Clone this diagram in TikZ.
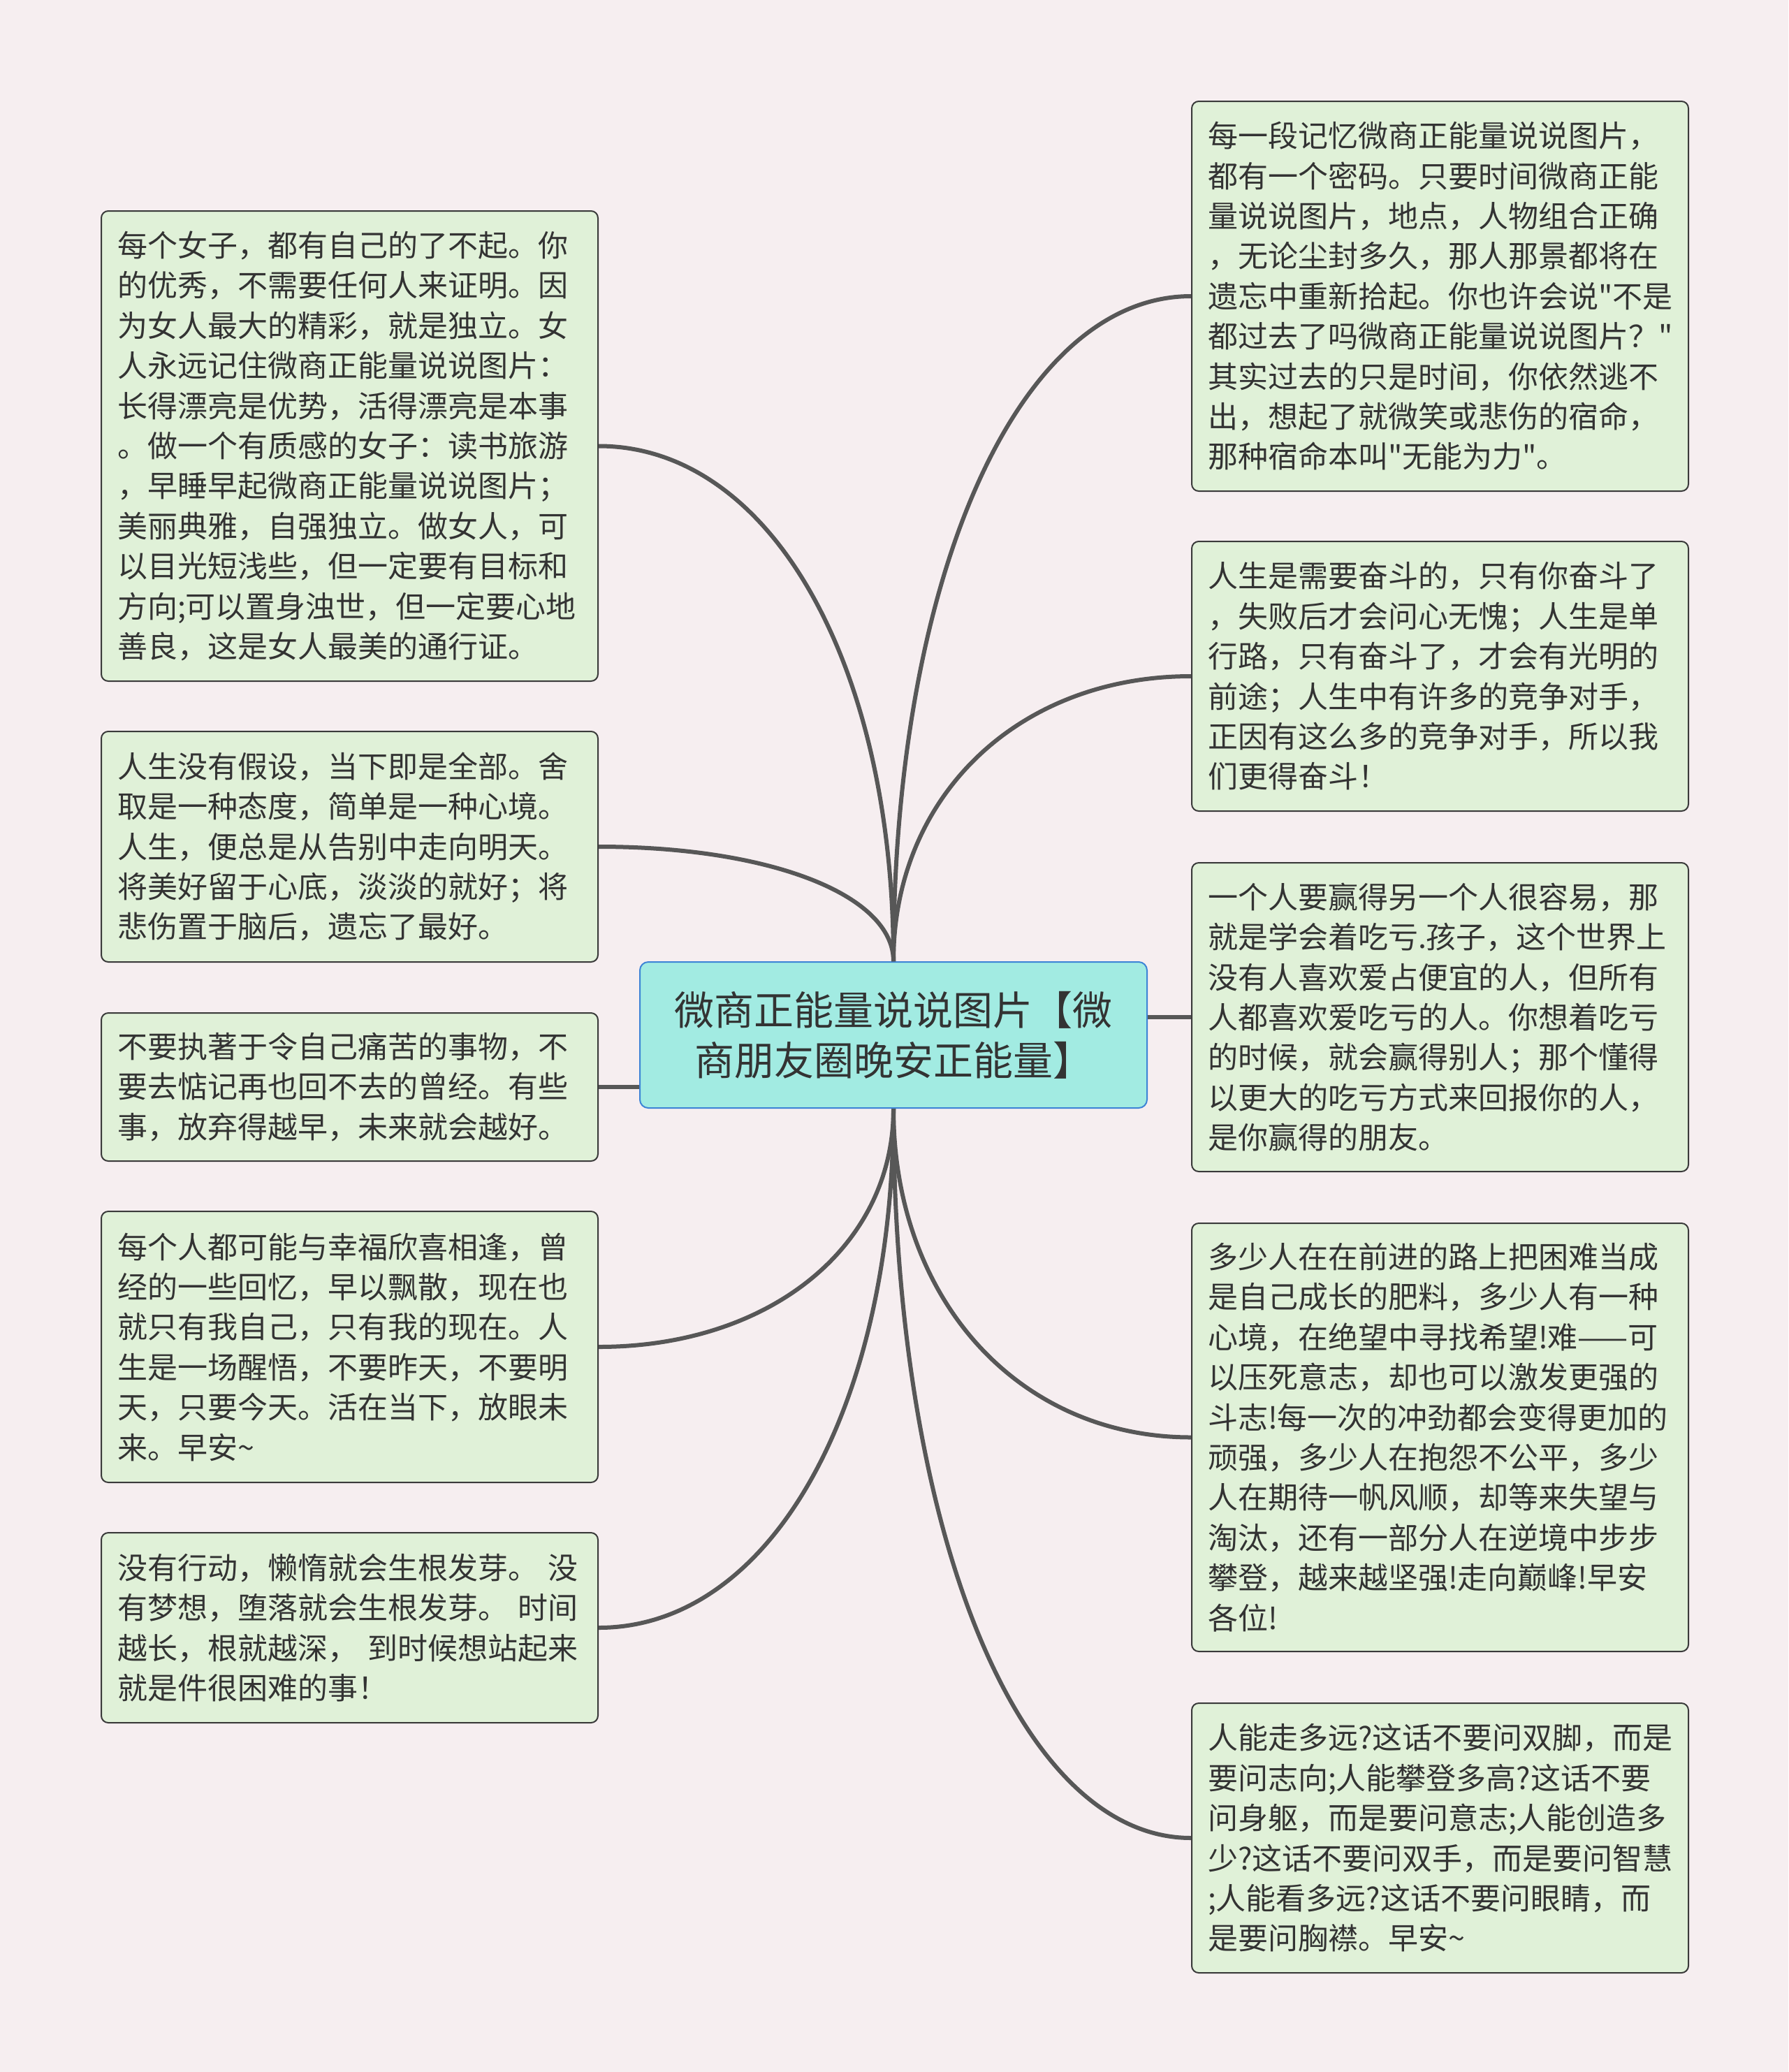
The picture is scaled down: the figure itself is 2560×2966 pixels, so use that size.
\documentclass[tikz,border=0pt]{standalone}
\usepackage{fontspec}
\setmainfont{Noto Sans CJK SC}[Ligatures=TeXOff]
\usetikzlibrary{calc}
\definecolor{bgpink}{HTML}{F6EEF0}
\definecolor{leaffill}{HTML}{E0F1D8}
\definecolor{leafline}{HTML}{3A3A3A}
\definecolor{rootfill}{HTML}{A2EBE2}
\definecolor{rootline}{HTML}{3D84D6}
\definecolor{linkgray}{HTML}{575757}
\definecolor{txt}{HTML}{333333}
\tikzset{
  leaf/.style={draw=leafline, line width=2pt, fill=leaffill, rounded corners=10pt,
    anchor=north west, text width=665pt, inner xsep=23pt, inner ysep=0pt,
    align=left, text=txt, font=\fontsize{43pt}{57.4pt}\selectfont},
  root/.style={draw=rootline, line width=2pt, fill=rootfill, rounded corners=12pt,
    minimum width=726pt, minimum height=209pt, align=center, text=txt,
    font=\fontsize{57pt}{72pt}\selectfont},
  link/.style={draw=linkgray, line width=6pt}
}
% curved branch: vertical out of the root, horizontal into the leaf
\newcommand{\branch}[2]{%
  \draw[link] (#1) .. controls ($(#1)!0.58!(#1 |- #2)$) and ($(#2)!0.58!(#1 |- #2)$) .. (#2);}
\begin{document}
\begin{tikzpicture}
    [x=1pt,y=-1pt]
    %page
    \useasboundingbox (0,0) rectangle (2560,2966);
    \fill[bgpink] (0,0) rectangle (2560,2966);
    %centre
    \node[root] (root) at (1279,1481.5)
      {微商正能量说说图片【微\\商朋友圈晚安正能量】};
    %left side
    \node[leaf, minimum height=673pt] (l1) at (144,301)
      {每个女子，都有自己的了不起。你\\的优秀，不需要任何人来证明。因\\为女人最大的精彩，就是独立。女\\人永远记住微商正能量说说图片：\\长得漂亮是优势，活得漂亮是本事\\。做一个有质感的女子：读书旅游\\，早睡早起微商正能量说说图片；\\美丽典雅，自强独立。做女人，可\\以目光短浅些，但一定要有目标和\\方向;可以置身浊世，但一定要心地\\善良，这是女人最美的通行证。};
    \node[leaf, minimum height=330pt] (l2) at (144,1046)
      {人生没有假设，当下即是全部。舍\\取是一种态度，简单是一种心境。\\人生，便总是从告别中走向明天。\\将美好留于心底，淡淡的就好；将\\悲伤置于脑后，遗忘了最好。};
    \node[leaf, minimum height=212pt] (l3) at (144,1449)
      {不要执著于令自己痛苦的事物，不\\要去惦记再也回不去的曾经。有些\\事，放弃得越早，未来就会越好。};
    \node[leaf, minimum height=388pt] (l4) at (144,1733)
      {每个人都可能与幸福欣喜相逢，曾\\经的一些回忆，早以飘散，现在也\\就只有我自己，只有我的现在。人\\生是一场醒悟，不要昨天，不要明\\天，只要今天。活在当下，放眼未\\来。早安\textasciitilde};
    \node[leaf, minimum height=272pt] (l5) at (144,2193)
      {没有行动，懒惰就会生根发芽。 没\\有梦想，堕落就会生根发芽。 时间\\越长，根就越深， 到时候想站起来\\就是件很困难的事！};
    %right side
    \node[leaf, minimum height=558pt] (r1) at (1705,144)
      {每一段记忆微商正能量说说图片，\\都有一个密码。只要时间微商正能\\量说说图片，地点，人物组合正确\\，无论尘封多久，那人那景都将在\\遗忘中重新拾起。你也许会说"不是\\都过去了吗微商正能量说说图片？"\\其实过去的只是时间，你依然逃不\\出，想起了就微笑或悲伤的宿命，\\那种宿命本叫"无能为力"。};
    \node[leaf, minimum height=386pt] (r2) at (1705,774)
      {人生是需要奋斗的，只有你奋斗了\\，失败后才会问心无愧；人生是单\\行路，只有奋斗了，才会有光明的\\前途；人生中有许多的竞争对手，\\正因有这么多的竞争对手，所以我\\们更得奋斗！};
    \node[leaf, minimum height=442pt] (r3) at (1705,1234)
      {一个人要赢得另一个人很容易，那\\就是学会着吃亏.孩子，这个世界上\\没有人喜欢爱占便宜的人，但所有\\人都喜欢爱吃亏的人。你想着吃亏\\的时候，就会赢得别人；那个懂得\\以更大的吃亏方式来回报你的人，\\是你赢得的朋友。};
    \node[leaf, minimum height=613pt] (r4) at (1705,1750)
      {多少人在在前进的路上把困难当成\\是自己成长的肥料，多少人有一种\\心境，在绝望中寻找希望!难——可\\以压死意志，却也可以激发更强的\\斗志!每一次的冲劲都会变得更加的\\顽强，多少人在抱怨不公平，多少\\人在期待一帆风顺，却等来失望与\\淘汰，还有一部分人在逆境中步步\\攀登，越来越坚强!走向巅峰!早安\\各位!};
    \node[leaf, minimum height=386pt] (r5) at (1705,2437)
      {人能走多远?这话不要问双脚，而是\\要问志向;人能攀登多高?这话不要\\问身躯，而是要问意志;人能创造多\\少?这话不要问双手，而是要问智慧\\;人能看多远?这话不要问眼睛，而\\是要问胸襟。早安\textasciitilde};
    %links left
    \branch{root.north}{l1.east}
    \branch{root.north}{l2.east}
    \draw[link] (l3.east) -- (l3.east -| root.west);
    \branch{root.south}{l4.east}
    \branch{root.south}{l5.east}
    %links right
    \branch{root.north}{r1.west}
    \branch{root.north}{r2.west}
    \draw[link] (r3.west) -- (r3.west -| root.east);
    \branch{root.south}{r4.west}
    \branch{root.south}{r5.west}
\end{tikzpicture}
\end{document}
